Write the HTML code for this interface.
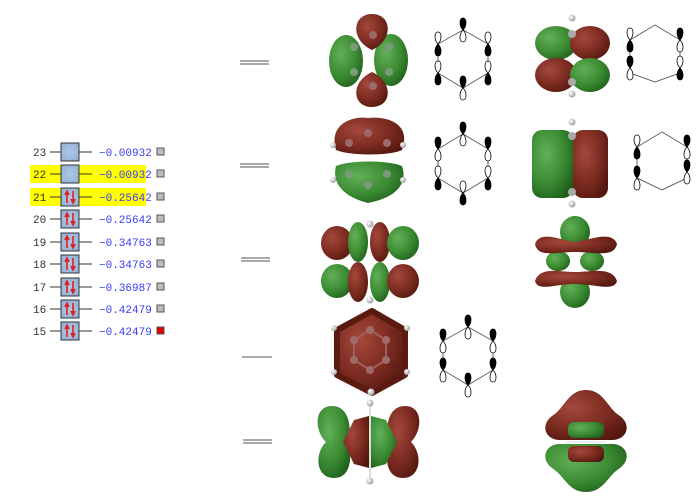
<!DOCTYPE html>
<html><head><meta charset="utf-8"><style>
html,body{margin:0;padding:0;background:#fff;}
body{width:700px;height:501px;overflow:hidden;position:relative;font-family:"Liberation Mono",monospace;}
</style></head><body>
<svg width="700" height="501" viewBox="0 0 700 501" xmlns="http://www.w3.org/2000/svg" style="position:absolute;left:0;top:0">
<defs>
<radialGradient id="r" cx="0.35" cy="0.35" r="0.75"><stop offset="0" stop-color="#a5483d"/><stop offset="0.6" stop-color="#7a2a1f"/><stop offset="1" stop-color="#541810"/></radialGradient>
<radialGradient id="g" cx="0.35" cy="0.35" r="0.75"><stop offset="0" stop-color="#62b058"/><stop offset="0.6" stop-color="#3a8a32"/><stop offset="1" stop-color="#1f5e1a"/></radialGradient>
<radialGradient id="h" cx="0.35" cy="0.35" r="0.7"><stop offset="0" stop-color="#ffffff"/><stop offset="1" stop-color="#9a9a9a"/></radialGradient>
<radialGradient id="box" cx="0.5" cy="0.5" r="0.7"><stop offset="0" stop-color="#b0c8e4"/><stop offset="1" stop-color="#8fb0d6"/></radialGradient>
<g id="pu"><path d="M0,0 C-4,-4 -4,-12 0,-12 C4,-12 4,-4 0,0Z" fill="#000" stroke="#000" stroke-width="0.8"/><path d="M0,0 C-4,4 -4,12 0,12 C4,12 4,4 0,0Z" fill="#fff" stroke="#000" stroke-width="0.8"/></g>
<g id="pd"><path d="M0,0 C-4,-4 -4,-12 0,-12 C4,-12 4,-4 0,0Z" fill="#fff" stroke="#000" stroke-width="0.8"/><path d="M0,0 C-4,4 -4,12 0,12 C4,12 4,4 0,0Z" fill="#000" stroke="#000" stroke-width="0.8"/></g>
<g id="arrows"><path d="M4,15 L4,4 M2,7 L4,3 L6,7" stroke="#e02020" stroke-width="1.6" fill="none"/><path d="M10,3 L10,14 M8,11 L10,15 L12,11" stroke="#e02020" stroke-width="1.6" fill="none"/></g>
</defs>

<!-- left panel -->
<rect x="30" y="165" width="116" height="18" fill="#ffff00"/>
<rect x="30" y="188" width="116" height="18" fill="#ffff00"/>
<g font-size="11" fill="#333">
<text x="33" y="156">23</text><text x="33" y="178">22</text><text x="33" y="201">21</text><text x="33" y="223">20</text><text x="33" y="246">19</text><text x="33" y="268">18</text><text x="33" y="291">17</text><text x="33" y="313">16</text><text x="33" y="335">15</text>
</g>
<g font-size="11" fill="#3a3af0">
<text x="99" y="156">−0.00932</text><text x="99" y="178">−0.00932</text><text x="99" y="201">−0.25642</text><text x="99" y="223">−0.25642</text><text x="99" y="246">−0.34763</text><text x="99" y="268">−0.34763</text><text x="99" y="291">−0.36987</text><text x="99" y="313">−0.42479</text><text x="99" y="335">−0.42479</text>
</g>
<g stroke="#333" stroke-width="1">
<line x1="50" y1="152" x2="92" y2="152"/><line x1="50" y1="174" x2="92" y2="174"/><line x1="50" y1="197" x2="92" y2="197"/><line x1="50" y1="219" x2="92" y2="219"/><line x1="50" y1="242" x2="92" y2="242"/><line x1="50" y1="264" x2="92" y2="264"/><line x1="50" y1="287" x2="92" y2="287"/><line x1="50" y1="309" x2="92" y2="309"/><line x1="50" y1="331" x2="92" y2="331"/>
</g>
<g fill="url(#box)" stroke="#333" stroke-width="1">
<rect x="61" y="143" width="18" height="18"/><rect x="61" y="165" width="18" height="18"/><rect x="61" y="188" width="18" height="18"/><rect x="61" y="210" width="18" height="18"/><rect x="61" y="233" width="18" height="18"/><rect x="61" y="255" width="18" height="18"/><rect x="61" y="278" width="18" height="18"/><rect x="61" y="300" width="18" height="18"/><rect x="61" y="322" width="18" height="18"/>
</g>
<use href="#arrows" x="63" y="188"/><use href="#arrows" x="63" y="210"/><use href="#arrows" x="63" y="233"/><use href="#arrows" x="63" y="255"/><use href="#arrows" x="63" y="278"/><use href="#arrows" x="63" y="300"/><use href="#arrows" x="63" y="322"/>
<g fill="#bdbdbd" stroke="#555" stroke-width="1">
<rect x="157" y="148" width="7" height="7"/><rect x="157" y="170" width="7" height="7"/><rect x="157" y="193" width="7" height="7"/><rect x="157" y="215" width="7" height="7"/><rect x="157" y="238" width="7" height="7"/><rect x="157" y="260" width="7" height="7"/><rect x="157" y="283" width="7" height="7"/><rect x="157" y="305" width="7" height="7"/>
<rect x="157" y="327" width="7" height="7" fill="#e00000"/>
</g>

<!-- level lines -->
<g stroke="#777" stroke-width="1.2">
<line x1="240" y1="61" x2="269" y2="61"/><line x1="240" y1="64" x2="269" y2="64"/>
<line x1="240" y1="164" x2="269" y2="164"/><line x1="240" y1="167" x2="269" y2="167"/>
<line x1="241" y1="258" x2="270" y2="258"/><line x1="241" y1="261" x2="270" y2="261"/>
<line x1="242" y1="357" x2="272" y2="357"/>
<line x1="243" y1="440" x2="272" y2="440"/><line x1="243" y1="443" x2="272" y2="443"/>
</g>

<!-- row1 left orbital -->
<ellipse cx="346" cy="61" rx="17" ry="26" fill="url(#g)"/>
<ellipse cx="391" cy="60" rx="17" ry="26" fill="url(#g)"/>
<path d="M372,50 C350,40 352,14 372,14 C392,14 394,40 372,50Z" fill="url(#r)"/>
<path d="M372,72 C350,82 352,107 372,107 C392,107 394,82 372,72Z" fill="url(#r)"/>
<g fill="#9a6a6a"><circle cx="373" cy="35" r="4"/><circle cx="373" cy="86" r="4"/><circle cx="354" cy="47" r="4" fill="#7a9a7a"/><circle cx="389" cy="47" r="4" fill="#7a9a7a"/><circle cx="354" cy="72" r="4" fill="#7a9a7a"/><circle cx="389" cy="72" r="4" fill="#7a9a7a"/></g>
<!-- row1 left schematic -->
<polygon points="463,30 438,44 438,73 463,88 488,73 488,44" fill="none" stroke="#666" stroke-width="1"/>
<use href="#pu" x="463" y="30"/><use href="#pd" x="438" y="44"/><use href="#pd" x="438" y="73"/><use href="#pu" x="463" y="88"/><use href="#pd" x="488" y="44"/><use href="#pd" x="488" y="73"/>
<!-- row1 right orbital -->
<ellipse cx="556" cy="43" rx="21" ry="17" fill="url(#g)"/>
<ellipse cx="590" cy="43" rx="20" ry="17" fill="url(#r)"/>
<ellipse cx="556" cy="75" rx="21" ry="17" fill="url(#r)"/>
<ellipse cx="590" cy="75" rx="20" ry="17" fill="url(#g)"/>
<circle cx="572" cy="18" r="3.5" fill="url(#h)"/><circle cx="572" cy="94" r="3.5" fill="url(#h)"/>
<circle cx="572" cy="34" r="4" fill="#aaa"/><circle cx="572" cy="82" r="4" fill="#aaa"/>
<!-- row1 right schematic -->
<polygon points="655,25 630,40 630,73 655,82 680,73 680,40" fill="none" stroke="#666" stroke-width="1"/>
<use href="#pd" x="630" y="40"/><use href="#pu" x="630" y="68"/><use href="#pu" x="680" y="40"/><use href="#pd" x="680" y="68"/>

<!-- row2 left orbital -->
<path d="M336,150 C328,122 355,116 368,118 C385,116 412,122 402,150 C390,156 350,156 336,150Z" fill="url(#r)"/>
<path d="M336,166 C330,190 355,200 368,203 C385,200 410,190 402,166 C388,160 350,160 336,166Z" fill="url(#g)"/>
<g fill="#9a6a6a"><circle cx="368" cy="133" r="4"/><circle cx="349" cy="143" r="4"/><circle cx="387" cy="143" r="4"/></g>
<g fill="#7a9a7a"><circle cx="368" cy="185" r="4"/><circle cx="349" cy="174" r="4"/><circle cx="387" cy="174" r="4"/></g>
<circle cx="333" cy="145" r="3" fill="url(#h)"/><circle cx="403" cy="145" r="3" fill="url(#h)"/><circle cx="333" cy="180" r="3" fill="url(#h)"/><circle cx="403" cy="180" r="3" fill="url(#h)"/>
<!-- row2 left schematic -->
<polygon points="463,134 438,149 438,178 463,193 488,178 488,149" fill="none" stroke="#666" stroke-width="1"/>
<use href="#pu" x="463" y="134"/><use href="#pu" x="438" y="149"/><use href="#pd" x="438" y="178"/><use href="#pd" x="463" y="193"/><use href="#pu" x="488" y="149"/><use href="#pd" x="488" y="178"/>
<!-- row2 right orbital -->
<rect x="532" y="130" width="41" height="68" rx="10" fill="url(#g)"/>
<rect x="573" y="130" width="35" height="68" rx="10" fill="url(#r)"/>
<circle cx="572" cy="122" r="3.5" fill="url(#h)"/><circle cx="572" cy="204" r="3.5" fill="url(#h)"/>
<circle cx="572" cy="136" r="4" fill="#aaa"/><circle cx="572" cy="192" r="4" fill="#aaa"/>
<!-- row2 right schematic -->
<polygon points="662,132 637,147 637,178 662,190 687,178 687,147" fill="none" stroke="#666" stroke-width="1"/>
<use href="#pd" x="637" y="147"/><use href="#pu" x="637" y="178"/><use href="#pu" x="687" y="147"/><use href="#pu" x="687" y="172"/>

<!-- row3 left orbital -->
<ellipse cx="337" cy="243" rx="16" ry="17" fill="url(#r)"/>
<ellipse cx="358" cy="242" rx="10" ry="20" fill="url(#g)"/>
<ellipse cx="380" cy="242" rx="10" ry="20" fill="url(#r)"/>
<ellipse cx="403" cy="243" rx="16" ry="17" fill="url(#g)"/>
<ellipse cx="337" cy="281" rx="16" ry="17" fill="url(#g)"/>
<ellipse cx="358" cy="282" rx="10" ry="20" fill="url(#r)"/>
<ellipse cx="380" cy="282" rx="10" ry="20" fill="url(#g)"/>
<ellipse cx="403" cy="281" rx="16" ry="17" fill="url(#r)"/>
<circle cx="370" cy="224" r="3.5" fill="url(#h)"/><circle cx="370" cy="300" r="3.5" fill="url(#h)"/>
<!-- row3 right orbital -->
<ellipse cx="575" cy="232" rx="15" ry="16" fill="url(#g)"/>
<ellipse cx="575" cy="292" rx="15" ry="16" fill="url(#g)"/>
<ellipse cx="558" cy="261" rx="12" ry="10" fill="url(#g)"/>
<ellipse cx="592" cy="261" rx="12" ry="10" fill="url(#g)"/>
<path d="M535,244 C540,230 560,240 575,242 C590,240 612,230 617,244 C614,258 595,252 575,252 C555,252 538,258 535,244Z" fill="url(#r)"/>
<path d="M535,281 C540,266 560,272 575,272 C590,272 612,266 617,281 C614,292 595,284 575,284 C555,284 538,292 535,281Z" fill="url(#r)"/>

<!-- row4 orbital -->
<polygon points="372,311 405,330 405,375 372,393 337,375 337,330" fill="url(#r)" stroke="#5a1a10" stroke-width="6" stroke-linejoin="round"/>
<polygon points="370,330 386,340 386,360 370,370 354,360 354,340" fill="none" stroke="#a06060" stroke-width="2"/>
<g fill="#a06a6a"><circle cx="370" cy="330" r="4"/><circle cx="386" cy="340" r="4"/><circle cx="386" cy="360" r="4"/><circle cx="370" cy="370" r="4"/><circle cx="354" cy="360" r="4"/><circle cx="354" cy="340" r="4"/></g>
<circle cx="371" cy="392" r="3.5" fill="url(#h)"/><circle cx="334" cy="372" r="3" fill="url(#h)"/><circle cx="407" cy="372" r="3" fill="url(#h)"/><circle cx="334" cy="328" r="3" fill="url(#h)"/><circle cx="407" cy="328" r="3" fill="url(#h)"/>
<!-- row4 schematic -->
<polygon points="468,327 443,341 443,370 468,385 493,370 493,341" fill="none" stroke="#666" stroke-width="1"/>
<use href="#pu" x="468" y="327"/><use href="#pu" x="443" y="341"/><use href="#pu" x="443" y="370"/><use href="#pu" x="468" y="385"/><use href="#pu" x="493" y="341"/><use href="#pu" x="493" y="370"/>

<!-- row5 left orbital -->
<path d="M332,406 C314,406 314,430 326,442 C314,454 316,478 334,478 C352,478 352,455 348,442 C352,430 350,406 332,406Z" fill="url(#g)"/>
<path d="M405,406 C423,406 423,430 411,442 C423,454 421,478 403,478 C385,478 385,455 389,442 C385,430 387,406 405,406Z" fill="url(#r)"/>
<path d="M354,420 L369,416 L369,468 L354,464 L343,442Z" fill="url(#r)"/>
<path d="M371,416 L386,420 L397,442 L386,464 L371,468Z" fill="url(#g)"/>
<line x1="370" y1="405" x2="370" y2="478" stroke="#ddd" stroke-width="2"/>
<circle cx="370" cy="403" r="3.5" fill="url(#h)"/><circle cx="370" cy="481" r="3.5" fill="url(#h)"/>
<!-- row5 right orbital -->
<path d="M560,440 C545,440 540,425 552,416 C565,408 568,390 586,390 C604,390 607,408 620,416 C632,425 627,440 612,440Z" fill="url(#r)"/>
<path d="M560,444 C545,444 540,459 552,468 C565,476 568,492 586,492 C604,492 607,476 620,468 C632,459 627,444 612,444Z" fill="url(#g)"/>
<rect x="568" y="422" width="36" height="16" rx="6" fill="url(#g)"/>
<rect x="568" y="446" width="36" height="16" rx="6" fill="url(#r)"/>
<line x1="566" y1="442" x2="606" y2="442" stroke="#eee" stroke-width="2"/>
</svg>
</body></html>
